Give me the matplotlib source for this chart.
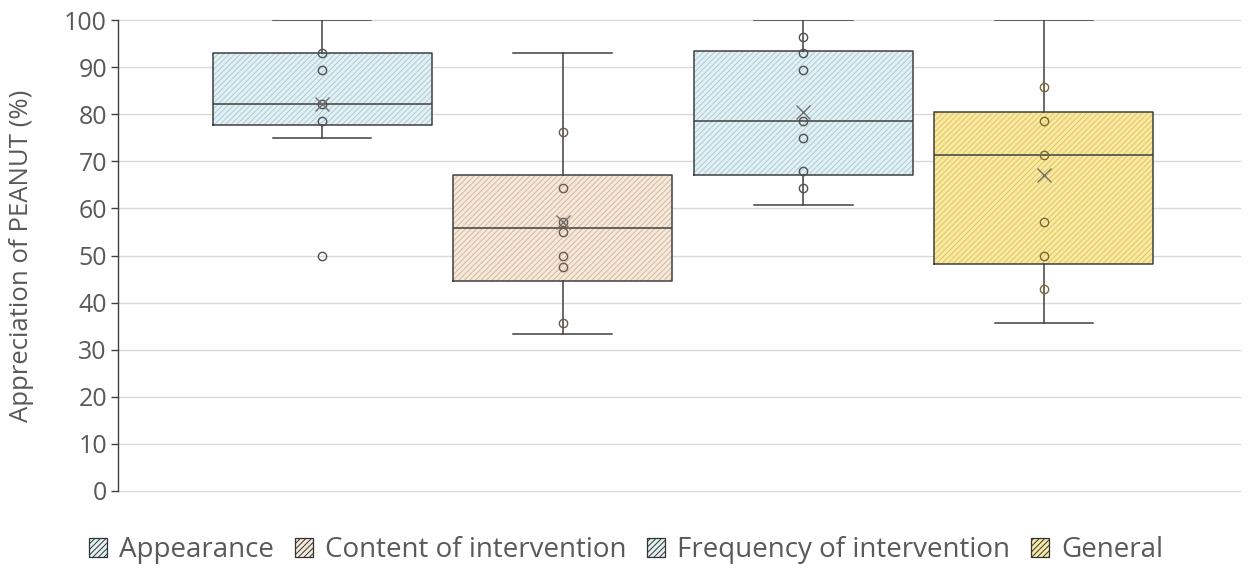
import matplotlib
matplotlib.use("Agg")
import matplotlib.pyplot as plt
from matplotlib.patches import Patch
import numpy as np

categories = ["Appearance", "Content of intervention", "Frequency of intervention", "General"]
whislo = [75.0, 33.3, 60.7, 35.7]
q1 = [77.7, 44.6, 67.0, 48.2]
med = [82.1, 55.9, 78.6, 71.4]
q3 = [92.9, 67.1, 93.5, 80.4]
whishi = [100.0, 92.9, 100.0, 100.0]
means = [82.1, 57.1, 80.4, 67.0]
points = [
    [92.9, 89.3, 82.1, 78.6, 50.0],
    [76.2, 64.3, 57.1, 55.0, 50.0, 47.6, 35.7],
    [96.4, 92.9, 89.3, 78.6, 75.0, 67.9, 64.3],
    [85.7, 78.6, 71.4, 57.1, 50.0, 42.9],
]

fills = ["#e4f1f4", "#f5e9dc", "#e4f1f4", "#f8eaa6"]
hatch_cols = ["#a9cbd6", "#d6b99c", "#a9cbd6", "#e3c555"]
point_cols = ["#505050", "#6b5a4a", "#505050", "#7a6a30"]

plt.rcParams['font.family'] = ['Open Sans', 'DejaVu Sans']
plt.rcParams['hatch.linewidth'] = 0.7

fig = plt.figure(figsize=(12.52, 5.72), dpi=100)
ax = fig.add_axes([118/1252, 1-491/572, (1240-118)/1252, (491-20)/572])

pos = np.arange(len(categories))
width = 0.91
stats = []
for i in range(len(categories)):
    stats.append(dict(whislo=whislo[i], q1=q1[i], med=med[i], q3=q3[i],
                      whishi=whishi[i], mean=means[i], fliers=[], label=categories[i]))

# hatched fill layer
for i in range(len(categories)):
    ax.bxp([stats[i]], positions=[pos[i]], widths=width, patch_artist=True,
           showmeans=False, showcaps=False,
           boxprops=dict(facecolor=fills[i], edgecolor=hatch_cols[i], linewidth=0, hatch='//////'),
           whiskerprops=dict(linewidth=0), medianprops=dict(linewidth=0),
           manage_ticks=False, zorder=2)

# outline layer
ax.bxp(stats, positions=pos, widths=width, patch_artist=False, showmeans=False,
       boxprops=dict(color="#404040", linewidth=1.1),
       whiskerprops=dict(color="#404040", linewidth=1.1),
       capprops=dict(color="#404040", linewidth=1.1),
       capwidths=0.41,
       medianprops=dict(color="#404040", linewidth=1.1),
       manage_ticks=False, zorder=3)

for i in range(len(categories)):
    ax.plot([pos[i]]*len(points[i]), points[i], linestyle='none', marker='o',
            markersize=6, markerfacecolor='none', markeredgecolor=point_cols[i],
            markeredgewidth=1.0, zorder=4)
    ax.plot([pos[i]], [means[i]], linestyle='none', marker='x', markersize=10,
            markeredgecolor="#707070", markeredgewidth=1.0, zorder=5)

ax.set_ylim(0, 100)
ax.set_xlim(-204/240.5, 3 + 196/240.5)
ax.set_yticks(range(0, 101, 10))
ax.set_xticks([])
ax.yaxis.grid(True, color="#d9d9d9", linewidth=1.0)
for gl in ax.get_ygridlines():
    gl.set_clip_on(False)
ax.set_axisbelow(True)
for s in ["top", "right", "bottom"]:
    ax.spines[s].set_visible(False)
ax.spines["left"].set_color("#404040")
ax.spines["left"].set_linewidth(1.0)
ax.tick_params(axis='y', labelcolor="#595959", color="#404040", labelsize=18,
               length=5, width=1.0, direction='out', pad=3)
ax.set_ylabel("Appreciation of PEANUT (%)", fontsize=18.5, color="#595959")
ax.yaxis.set_label_coords((34-118)/1122, 0.5)

handles = [Patch(facecolor=fills[i], edgecolor="#333333", hatch='//////', linewidth=0.9, label=categories[i])
           for i in range(len(categories))]
leg = fig.legend(handles=handles, loc='center', bbox_to_anchor=(0.5, 1-550/572), ncol=4,
                 frameon=False, fontsize=20, handlelength=0.65, handleheight=0.65,
                 handletextpad=0.43, columnspacing=0.75, labelcolor="#595959")

fig.savefig("out.png", dpi=100)
